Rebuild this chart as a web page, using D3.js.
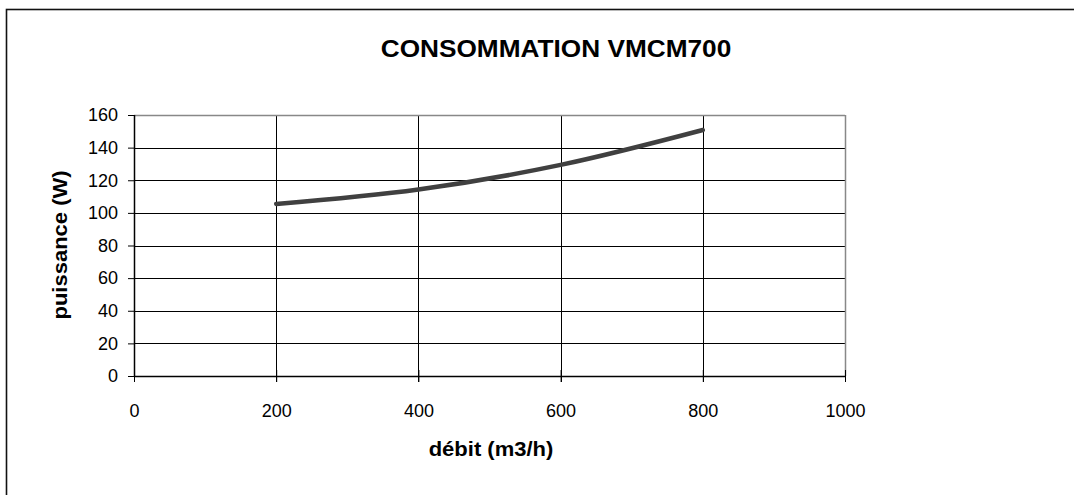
<!DOCTYPE html>
<html><head><meta charset="utf-8">
<script src="https://cdn.jsdelivr.net/npm/d3@7"></script>
<style>
html,body{margin:0;padding:0;background:#fff;}
svg{display:block;}
text{font-family:"Liberation Sans",Arial,sans-serif;fill:#000;}
</style></head>
<body>
<svg id="chart" width="1074" height="495"></svg>
<script>
const title = "CONSOMMATION VMCM700";
const xTitle = "débit (m3/h)";
const yTitle = "puissance (W)";
const debit = [200, 400, 600, 800];
const puissance = [105.5, 114.3, 129.4, 150.8];
const xTicks = [0, 200, 400, 600, 800, 1000];
const yTicks = [0, 20, 40, 60, 80, 100, 120, 140, 160];

const svg = d3.select("#chart");
const m = {left: 134, right: 845, top: 115, bottom: 376};

// outer frame
svg.append("rect").attr("x", 6.5).attr("y", 9.5).attr("width", 1200).attr("height", 600)
  .attr("fill", "none").attr("stroke", "#111").attr("stroke-width", 1.6);

const x = d3.scaleLinear().domain([0, 1000]).range([m.left, m.right]);
const y = d3.scaleLinear().domain([0, 160]).range([m.bottom, m.top]);

// grid
const g = svg.append("g");
g.selectAll("line.h").data(yTicks.slice(1, -1)).join("line")
  .attr("x1", m.left).attr("x2", m.right)
  .attr("y1", d => Math.round(y(d)) + 0.5).attr("y2", d => Math.round(y(d)) + 0.5)
  .attr("stroke", "#000").attr("stroke-width", 1);
g.selectAll("line.v").data(xTicks.slice(1, -1)).join("line")
  .attr("y1", m.top).attr("y2", m.bottom + 6)
  .attr("x1", d => Math.round(x(d)) + 0.5).attr("x2", d => Math.round(x(d)) + 0.5)
  .attr("stroke", "#000").attr("stroke-width", 1);
// plot area top/right border
g.append("line").attr("x1", m.left).attr("x2", m.right).attr("y1", m.top + 0.5).attr("y2", m.top + 0.5)
  .attr("stroke", "#888").attr("stroke-width", 1.5);
g.append("line").attr("x1", m.right + 0.5).attr("x2", m.right + 0.5).attr("y1", m.top).attr("y2", m.bottom)
  .attr("stroke", "#888").attr("stroke-width", 1.5);

// axes
const xAxis = d3.axisBottom(x).tickValues(xTicks).tickSize(6).tickPadding(22).tickFormat(d3.format("d"));
const yAxis = d3.axisLeft(y).tickValues(yTicks).tickSize(6).tickPadding(10).tickFormat(d3.format("d"));

const gx = svg.append("g").attr("transform", `translate(0,${m.bottom})`).call(xAxis);
gx.select(".domain").attr("d", `M${m.left},0.5H${m.right}`).attr("stroke", "#000").attr("stroke-width", 1.5);
gx.selectAll(".tick line").attr("y1", -6).attr("stroke", "#000");
gx.selectAll(".tick text").style("font-size", "18px").attr("font-family", null);

const gy = svg.append("g").attr("transform", `translate(${m.left},0)`).call(yAxis);
gy.select(".domain").attr("d", `M0.5,${m.top}V${m.bottom}`).attr("stroke", "#000").attr("stroke-width", 1.5);
gy.selectAll(".tick line").attr("stroke", "#000");
gy.selectAll(".tick text").style("font-size", "18px").attr("font-family", null);

// line
const pts = debit.map((d, i) => [d, puissance[i]]);
svg.append("path").datum(pts)
  .attr("d", d3.line().x(d => x(d[0])).y(d => y(d[1])).curve(d3.curveCatmullRom.alpha(0.5)))
  .attr("fill", "none").attr("stroke", "#404040").attr("stroke-width", 4.5).attr("stroke-linecap", "round");

// titles
svg.append("text").attr("transform", "translate(556,57) scale(1.14,1)").attr("text-anchor", "middle")
  .style("font-size", "23px").style("font-weight", "bold").text(title);
svg.append("text").attr("transform", "translate(491,456) scale(1.1,1)").attr("text-anchor", "middle")
  .style("font-size", "20px").style("font-weight", "bold").text(xTitle);
svg.append("text").attr("transform", "translate(67,245) rotate(-90) scale(1.1,1)").attr("text-anchor", "middle")
  .style("font-size", "20px").style("font-weight", "bold").text(yTitle);
</script>
</body></html>
